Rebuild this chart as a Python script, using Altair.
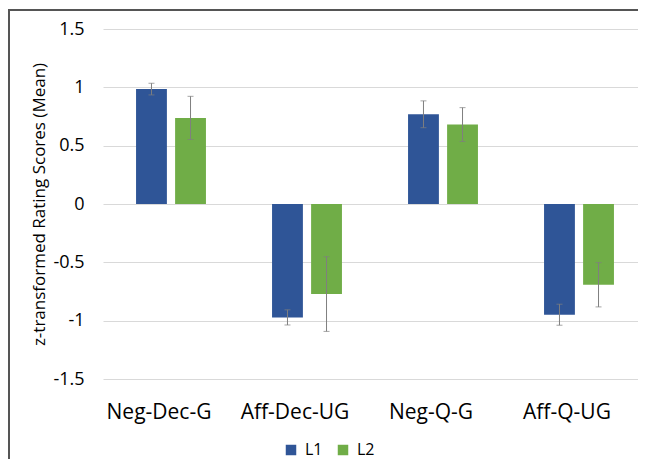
import altair as alt
import pandas as pd

categories = ["Neg-Dec-G", "Aff-Dec-UG", "Neg-Q-G", "Aff-Q-UG"]
groups = ["L1", "L2"]
l1_mean = [0.985, -0.972, 0.769, -0.949]
l1_err = [0.05, 0.065, 0.115, 0.09]
l2_mean = [0.738, -0.772, 0.681, -0.692]
l2_err = [0.185, 0.32, 0.145, 0.19]
y_ticks = [-1.5, -1, -0.5, 0, 0.5, 1, 1.5]
colors = ["#2F5597", "#70AD47"]

rows = []
for i, c in enumerate(categories):
    rows.append({"cat": c, "group": "L1", "mean": l1_mean[i],
                 "lo": l1_mean[i] - l1_err[i], "hi": l1_mean[i] + l1_err[i]})
    rows.append({"cat": c, "group": "L2", "mean": l2_mean[i],
                 "lo": l2_mean[i] - l2_err[i], "hi": l2_mean[i] + l2_err[i]})
df = pd.DataFrame(rows)

FONT = "Open Sans"

x = alt.X("cat:N", sort=categories, title=None,
          scale=alt.Scale(range=[2, 546], paddingInner=0.486, paddingOuter=0.243),
          axis=alt.Axis(labelAngle=0, domain=False, ticks=False, grid=False,
                        labelFontSize=21, labelFont=FONT, labelColor="#000000",
                        labelPadding=22, labelOffset=-12))
xo = alt.XOffset("group:N", sort=groups,
                 scale=alt.Scale(paddingInner=0.21, paddingOuter=0))

base = alt.Chart(df)

bars = base.mark_bar().encode(
    x=x, xOffset=xo,
    y=alt.Y("mean:Q", scale=alt.Scale(domain=[-1.5, 1.5], nice=False),
            title="z-transformed Rating Scores (Mean)",
            axis=alt.Axis(values=y_ticks, labelExpr="'' + datum.value",
                          domain=False, ticks=False, gridColor="#D9D9D9",
                          gridWidth=1, labelFontSize=18, labelFont=FONT,
                          labelColor="#000000", labelPadding=17,
                          titleFont=FONT, titleFontSize=17, titleFontWeight="normal",
                          titleColor="#000000", titleX=-62, titleY=175,
                          titleAngle=270, titleBaseline="middle", titleAlign="center")),
    color=alt.Color("group:N", sort=groups,
                    scale=alt.Scale(domain=groups, range=colors),
                    legend=alt.Legend(title=None, orient="none", direction="horizontal",
                                      legendX=182, legendY=413,
                                      symbolType="square", symbolSize=110,
                                      symbolStrokeWidth=0, labelFont=FONT,
                                      labelFontSize=16, labelColor="#000000",
                                      columnPadding=12, labelOffset=6)),
)

err = base.mark_rule(color="#7F7F7F", strokeWidth=1).encode(
    x=alt.X("cat:N", sort=categories), xOffset=xo,
    y="lo:Q", y2="hi:Q",
)
cap_lo = base.mark_tick(color="#7F7F7F", thickness=1, size=6).encode(
    x=alt.X("cat:N", sort=categories), xOffset=xo, y="lo:Q")
cap_hi = base.mark_tick(color="#7F7F7F", thickness=1, size=6).encode(
    x=alt.X("cat:N", sort=categories), xOffset=xo, y="hi:Q")

one = pd.DataFrame({"a": [0]})
frame_top = alt.Chart(one).mark_rule(stroke="#555555", strokeWidth=2).encode(
    x=alt.value(-93), x2=alt.value(540), y=alt.value(-19))
frame_left = alt.Chart(one).mark_rule(stroke="#555555", strokeWidth=2).encode(
    x=alt.value(-92), y=alt.value(-20), y2=alt.value(440))

chart = alt.layer(bars, err, cap_lo, cap_hi, frame_top, frame_left).properties(
    width=537, height=350,
    autosize=alt.AutoSizeParams(type="none"),
    padding={"left": 93, "top": 21, "right": 0, "bottom": 80},
).configure_view(strokeWidth=0)

chart.save("out.html", embed_options={"renderer": "svg", "actions": False})
